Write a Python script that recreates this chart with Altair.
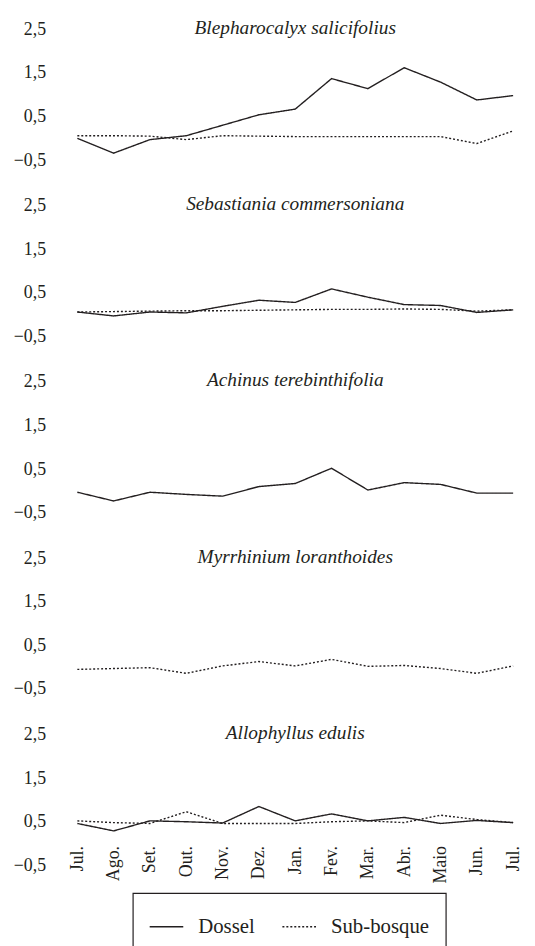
import json
import altair as alt
import pandas as pd

months = ["Jul.", "Ago.", "Set.", "Out.", "Nov.", "Dez.", "Jan.", "Fev.", "Mar.", "Abr.", "Maio", "Jun.", "Jul."]
series_names = ["Dossel", "Sub-bosque"]
species = [
    "Blepharocalyx salicifolius",
    "Sebastiania commersoniana",
    "Achinus terebinthifolia",
    "Myrrhinium loranthoides",
    "Allophyllus edulis",
]

blepharo_dossel = [0.0, -0.34, -0.03, 0.06, 0.30, 0.54, 0.67, 1.37, 1.14, 1.62, 1.29, 0.88, 0.98]
blepharo_sub = [0.06, 0.06, 0.05, -0.03, 0.06, 0.05, 0.04, 0.04, 0.04, 0.04, 0.04, -0.12, 0.17]
sebast_dossel = [0.06, -0.03, 0.06, 0.04, 0.19, 0.33, 0.28, 0.59, 0.40, 0.23, 0.21, 0.05, 0.11]
sebast_sub = [0.06, 0.07, 0.08, 0.09, 0.09, 0.10, 0.11, 0.12, 0.12, 0.13, 0.12, 0.08, 0.11]
achinus_dossel = [-0.03, -0.23, -0.03, -0.08, -0.12, 0.10, 0.17, 0.52, 0.02, 0.19, 0.15, -0.05, -0.05]
myrrh_sub = [-0.05, -0.03, -0.01, -0.14, 0.03, 0.13, 0.03, 0.18, 0.02, 0.04, -0.03, -0.14, 0.03]
alloph_dossel = [0.46, 0.29, 0.52, 0.50, 0.47, 0.85, 0.52, 0.68, 0.52, 0.60, 0.46, 0.53, 0.48]
alloph_sub = [0.52, 0.48, 0.46, 0.73, 0.46, 0.46, 0.46, 0.50, 0.52, 0.48, 0.65, 0.55, 0.48]

panels = {
    species[0]: {"Dossel": blepharo_dossel, "Sub-bosque": blepharo_sub},
    species[1]: {"Dossel": sebast_dossel, "Sub-bosque": sebast_sub},
    species[2]: {"Dossel": achinus_dossel},
    species[3]: {"Sub-bosque": myrrh_sub},
    species[4]: {"Dossel": alloph_dossel, "Sub-bosque": alloph_sub},
}

rows = []
for sp, series in panels.items():
    for name, vals in series.items():
        for i, v in enumerate(vals):
            rows.append({"species": sp, "serie": name, "idx": i, "value": v})
df = pd.DataFrame(rows)

FONT = "Liberation Serif"
INK = "#231f20"
W, H = 440, 132

month_expr = json.dumps(months) + "[datum.value]"

def panel(sp, last):
    xaxis = alt.Axis(
        values=list(range(len(months))), labelExpr=month_expr, labelAngle=270,
        domain=False, ticks=False, grid=False, labelOverlap=False, labelFlush=False,
        offset=-H / 6, labelPadding=2, title=None,
    ) if last else None
    return alt.Chart(df[df["species"] == sp]).mark_line(strokeWidth=1.4, color=INK).encode(
        x=alt.X("idx:Q", scale=alt.Scale(domain=[0, 12], nice=False, zero=False), axis=xaxis),
        y=alt.Y("value:Q", scale=alt.Scale(domain=[-0.5, 2.5], nice=False, zero=False),
                axis=alt.Axis(values=[-0.5, 0.5, 1.5, 2.5],
                              labelExpr="replace(format(datum.value, '.1f'), '.', ',')",
                              domain=False, ticks=False, grid=False, labelFlush=False,
                              labelPadding=32, title=None)),
        strokeDash=alt.StrokeDash("serie:N",
                                  scale=alt.Scale(domain=series_names, range=[[1, 0], [2, 2]]),
                                  legend=alt.Legend(title=None, orient="none", legendX=56, legendY=872)),
    ).properties(
        width=W, height=H,
        title=alt.TitleParams(sp, font=FONT, fontStyle="italic", fontWeight="normal", fontSize=19.5,
                              color=INK, anchor="middle", baseline="middle", frame="group", offset=-27),
    )

chart = alt.vconcat(*[panel(sp, i == len(species) - 1) for i, sp in enumerate(species)], spacing=25).properties(
    padding={"left": 5, "right": 5, "top": 5, "bottom": 0},
    background="white",
).configure_view(stroke=None).configure_axis(
    labelFont=FONT, labelFontSize=18, labelColor=INK,
).configure_legend(
    direction="horizontal", strokeColor=INK, strokeWidth=1.2, padding=16,
    symbolType="stroke", symbolSize=1150, symbolStrokeWidth=1.4, symbolStrokeColor=INK,
    labelFont=FONT, labelFontSize=21, labelColor=INK, labelOffset=14, columnPadding=24,
    cornerRadius=0,
)

chart.save("out.html", embed_options={"renderer": "svg", "actions": False})
